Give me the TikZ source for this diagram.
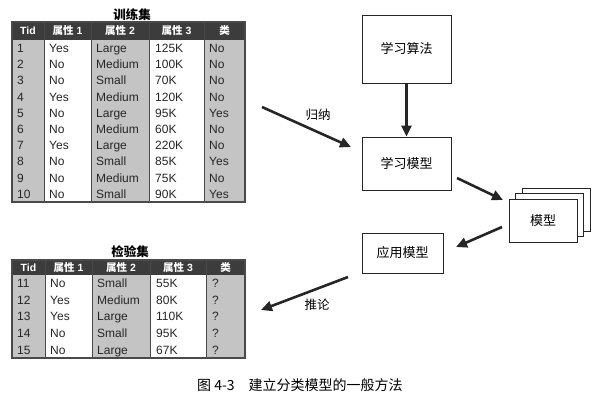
\documentclass[tikz,border=0pt]{standalone}
\usepackage{fontspec}
\setmainfont{Liberation Sans}
\newfontfamily\cjk{Noto Sans CJK SC}
\usetikzlibrary{arrows.meta}
\definecolor{tgray}{HTML}{C4C4C4}
\definecolor{thead}{HTML}{3C3C3C}
\definecolor{tline}{HTML}{4A4A4A}
\begin{document}
\begin{tikzpicture}[x=1pt,y=-1pt,
  cell/.style={anchor=west,inner sep=0pt,text height=8.6pt,text depth=0pt,font=\fontsize{12}{12}\selectfont,text=black!85},
  head/.style={inner sep=0pt,text height=7.5pt,text depth=0pt,font=\bfseries\fontsize{10.5}{11}\selectfont,text=white},
  ttl/.style={inner sep=0pt,font=\cjk\bfseries\fontsize{12.5}{12.5}\selectfont},
  box/.style={draw=black!85,line width=0.8pt,fill=white,inner sep=0pt,font=\cjk\fontsize{13}{13}\selectfont},
  arr/.style={line width=2.6pt,black!85,-{Triangle[length=11pt,width=10pt]}},
  lbl/.style={inner sep=0pt,font=\cjk\fontsize{12.5}{12.5}\selectfont}]
\useasboundingbox (0,0) rectangle (592,400);

% ---------- training table ----------
\node[ttl] (trtitle) at (132,15) {训练集};
\fill[tgray] (12,40) rectangle (44,202);
\fill[white] (44,40) rectangle (91,202);
\fill[tgray] (91,40) rectangle (149,202);
\fill[white] (149,40) rectangle (204,202);
\fill[tgray] (204,40) rectangle (245,202);
\fill[thead] (12,22) rectangle (245,40);
\foreach \xx in {44,91,149,204} \draw[tline,line width=1pt] (\xx,22) -- (\xx,202);
\draw[tline,line width=1.2pt] (12,22) rectangle (245,202);
\node[head] (trh1) at (28,31) {Tid};
\node[head] (trh2) at (67.5,31) {{\cjk 属性} 1};
\node[head] (trh3) at (120,31) {{\cjk 属性} 2};
\node[head] (trh4) at (176.5,31) {{\cjk 属性} 3};
\node[head] (trh5) at (224.5,31) {\cjk 类};
\foreach \a/\b/\c/\d/\e [count=\i] in {1/Yes/Large/125K/No,2/No/Medium/100K/No,3/No/Small/70K/No,4/Yes/Medium/120K/No,5/No/Large/95K/Yes,6/No/Medium/60K/No,7/Yes/Large/220K/No,8/No/Small/85K/Yes,9/No/Medium/75K/No,10/No/Small/90K/Yes} {
  \pgfmathsetmacro\yy{40+16.2*(\i-0.5)}
  \node[cell] (tr-\i-a) at (17,\yy) {\a};
  \node[cell] (tr-\i-b) at (49,\yy) {\b};
  \node[cell] (tr-\i-c) at (96,\yy) {\c};
  \node[cell] (tr-\i-d) at (155,\yy) {\d};
  \node[cell] (tr-\i-e) at (209,\yy) {\e};
}

% ---------- test table ----------
\node[ttl] (tetitle) at (130,252) {检验集};
\fill[tgray] (12,275) rectangle (45,358);
\fill[white] (45,275) rectangle (92,358);
\fill[tgray] (92,275) rectangle (150,358);
\fill[white] (150,275) rectangle (206,358);
\fill[tgray] (206,275) rectangle (245,358);
\fill[thead] (12,260) rectangle (245,275);
\foreach \xx in {45,92,150,206} \draw[tline,line width=1pt] (\xx,260) -- (\xx,358);
\draw[tline,line width=1.2pt] (12,260) rectangle (245,358);
\node[head] (teh1) at (28.5,267.5) {Tid};
\node[head] (teh2) at (68.5,267.5) {{\cjk 属性} 1};
\node[head] (teh3) at (121,267.5) {{\cjk 属性} 2};
\node[head] (teh4) at (178,267.5) {{\cjk 属性} 3};
\node[head] (teh5) at (225.5,267.5) {\cjk 类};
\foreach \a/\b/\c/\d/\e [count=\i] in {11/No/Small/55K/?,12/Yes/Medium/80K/?,13/Yes/Large/110K/?,14/No/Small/95K/?,15/No/Large/67K/?} {
  \pgfmathsetmacro\yy{275+16.6*(\i-0.5)}
  \node[cell] (te-\i-a) at (17,\yy) {\a};
  \node[cell] (te-\i-b) at (50,\yy) {\b};
  \node[cell] (te-\i-c) at (97,\yy) {\c};
  \node[cell] (te-\i-d) at (156,\yy) {\d};
  \node[cell] (te-\i-e) at (212,\yy) {\e};
}

% ---------- process boxes ----------
\node[box,minimum width=89pt,minimum height=68pt] (alg) at (406.5,49) {学习算法};
\node[box,minimum width=89pt,minimum height=53pt] (lm) at (406.5,163.5) {学习模型};
\node[box,minimum width=81pt,minimum height=40pt] (app) at (402.5,253) {应用模型};
\node[box,minimum width=68pt,minimum height=43pt] (mdl3) at (556,209.5) {};
\node[box,minimum width=68pt,minimum height=43pt] (mdl2) at (549.5,215) {};
\node[box,minimum width=68pt,minimum height=43pt] (mdl) at (543,220.5) {模型};

% ---------- arrows ----------
\coordinate (ind-s) at (262,107);
\coordinate (ind-e) at (351,147);
\coordinate (lm-o) at (457,178);
\coordinate (mdl-i) at (503,200);
\coordinate (mdl-o) at (502,227);
\coordinate (app-i) at (456,247);
\coordinate (inf-s) at (348,277);
\coordinate (inf-e) at (261,310);
\draw[arr] (alg.south) -- (lm.north);
\draw[arr] (ind-s) -- (ind-e);
\draw[arr] (lm-o) -- (mdl-i);
\draw[arr] (mdl-o) -- (app-i);
\draw[arr] (inf-s) -- (inf-e);
\node[lbl] (indlbl) at (318,115) {归纳};
\node[lbl] (inflbl) at (317,305) {推论};

% ---------- caption ----------
\node[anchor=west,inner sep=0pt,font=\cjk\fontsize{14}{14}\selectfont] (cap) at (197,385) {图 4-3\hspace{14pt}建立分类模型的一般方法};
\end{tikzpicture}
\end{document}
